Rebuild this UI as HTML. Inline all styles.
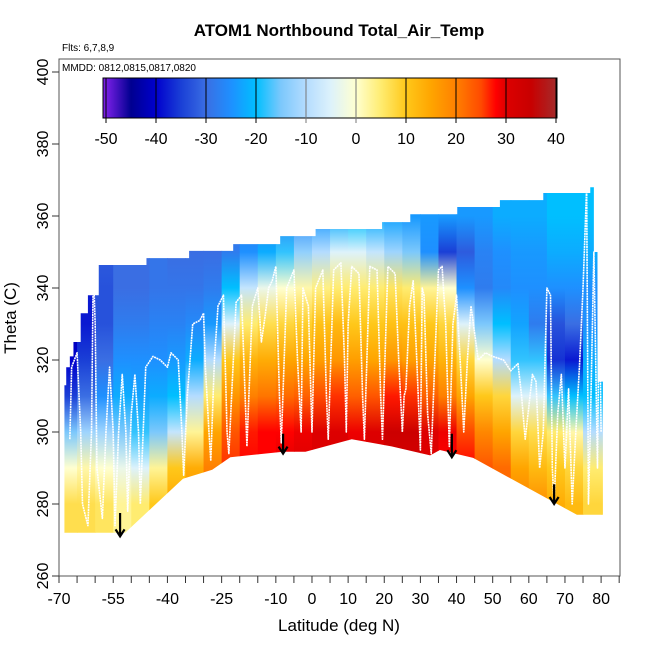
<!DOCTYPE html>
<html><head><meta charset="utf-8">
<style>
html,body{margin:0;padding:0;background:#fff;}
svg{display:block;font-family:"Liberation Sans",sans-serif;}
</style></head>
<body>
<svg id="chart" width="650" height="650" viewBox="0 0 650 650" xmlns="http://www.w3.org/2000/svg">
<defs id="defs"></defs>
<text x="339" y="36" text-anchor="middle" font-size="17" font-weight="bold">ATOM1 Northbound Total_Air_Temp</text>
<text x="62" y="51" font-size="10">Flts: 6,7,8,9</text>
<g id="field"></g>
<g id="track"></g>
<g id="arrows"></g>
<rect x="59" y="59" width="561" height="517" fill="none" stroke="#555" stroke-width="1"/>
<text x="62" y="71" font-size="10">MMDD: 0812,0815,0817,0820</text>
<g id="cbar"></g>
<g id="xaxis"></g>
<g id="yaxis"></g>
<text x="339" y="631" text-anchor="middle" font-size="17">Latitude (deg N)</text>
<text transform="translate(16,318) rotate(-90)" text-anchor="middle" font-size="17">Theta (C)</text>
</svg>
<script>
const colLeft = [-70,-65,-60,-55,-50,-45,-40,-35,-30,-25,-20,-15,-10,-5,0,5,10,15,20,25,30,35,40,45,50,55,60,65,70,75,80];
const levels = [270,280,290,300,310,320,330,340,350,360,370];
const fieldValues = [
[7,7,0,-15,-35,-40,-42,-42,-40,-40,-40],
[7,7,2,-12,-30,-35,-38,-38,-36,-36,-36],
[6,6,0,-12,-25,-30,-33,-33,-32,-32,-32],
[3,3,-3,-15,-22,-25,-28,-30,-30,-30,-30],
[5,5,-5,-18,-23,-25,-28,-30,-30,-30,-30],
[10,10,3,-15,-22,-25,-27,-29,-29,-29,-29],
[15,15,10,-8,-20,-24,-27,-29,-30,-30,-30],
[18,18,14,3,-10,-22,-26,-29,-30,-30,-30],
[22,22,20,15,5,-10,-24,-28,-30,-30,-30],
[27,27,26,24,17,10,-5,-20,-28,-30,-30],
[28,28,28,27,20,13,5,-8,-25,-28,-28],
[28,28,28,28,21,14,7,-3,-22,-28,-28],
[30,30,30,28,22,15,8,0,-18,-27,-27],
[30,30,30,29,23,15,9,2,-13,-26,-26],
[30,30,30,30,25,16,11,4,-10,-24,-24],
[31,31,31,30,26,17,12,5,-5,-22,-22],
[31,31,31,29,23,16,10,5,-5,-20,-20],
[31,31,31,30,24,15,10,5,-8,-22,-22],
[32,32,32,34,27,17,11,6,-12,-23,-23],
[32,32,32,34,26,16,11,5,-15,-24,-24],
[30,30,30,30,23,15,10,3,-25,-24,-24],
[28,28,28,29,20,13,8,0,-35,-24,-24],
[28,28,28,25,15,8,-5,-25,-32,-24,-24],
[25,25,24,19,10,0,-15,-28,-27,-24,-24],
[22,22,22,15,8,-10,-20,-26,-25,-22,-22],
[20,20,15,8,-5,-18,-23,-25,-24,-22,-22],
[18,18,12,7,-5,-18,-28,-25,-24,-22,-22],
[15,14,10,5,-18,-36,-33,-25,-22,-20,-20],
[12,12,8,2,-20,-38,-30,-25,-22,-20,-20],
[8,8,5,-10,-20,-22,-25,-25,-22,-20,-20],
[8,8,5,-10,-20,-22,-25,-25,-22,-20,-20]];
const bottomLat = [-68.5,-51.7,-48,-35.7,-27.6,-22.6,-8,-1.8,11,22,32.7,35.4,44.6,73.3,80.5];
const bottomTheta = [272,272,275.5,287,289.5,293,294.5,294.5,298,296,293.5,295,292.8,277,277];
const topStart = [-68.5,-68,-67,-66,-64,-62,-59,-45.8,-34,-21.8,-8.8,1,19.4,27.2,40.2,52,64,77,78,79];
const topEnd   = [-68,-67,-66,-64,-62,-59,-45.8,-34,-21.8,-8.8,1,19.4,27.2,40.2,52,64,77,78,79,80.5];
const topTheta = [313,318,321,325,333,338,346.4,348.3,350.3,352.2,354.4,356.4,358.3,360.5,362.5,364.4,366.4,368,350,314];
const trackLat = [-67,-66.5,-65,-64,-63.5,-62,-61,-60.5,-60,-59.5,-58,-57,-56,-55,-54.5,-53.5,-52.5,-51.5,-51,-50,-49,-48,-47.5,-46,-44,-42,-40,-39,-37,-36,-35.5,-34.5,-33,-31,-30,-29.5,-28.5,-28,-27,-26,-24.5,-23.5,-23,-21,-19.5,-18.5,-18,-16.5,-15,-14,-13,-12,-11,-10,-9,-8.5,-7,-5,-4,-3,-2.5,-1,0,1,3,4,4.5,6,8,9,9.5,10,11,13,14,14.5,16,18,19,19.5,21,23,24,25,25.5,26,27,28,29,30,30.5,31,32,33,34,35,36,37,38,39,40,41,42,43,44,46,48,50,53,55,57,58,59,61,62,63,64,65,66,66.5,67,68,69,70,71,72,73,74,75,76,76.5,77,78,79,79.5,80];
const trackTheta = [298,318,322,300,280,274,300,346,330,290,276,300,318,300,274,300,316,300,278,305,316,300,280,318,321,320,318,322,320,300,288,310,330,331,333,318,300,292,320,335,338,300,294,336,338,310,296,335,340,325,332,340,342,346,310,297,340,345,320,300,340,335,300,340,345,310,298,345,347,320,300,330,346,344,310,298,346,345,310,298,346,344,320,300,310,312,335,342,320,295,340,338,305,294,320,345,346,330,296,330,338,320,300,320,335,320,322,321,320,317,319,310,298,316,314,290,300,340,338,290,280,305,316,290,312,280,300,318,340,368,280,300,350,290,340,300];
const arrowLat = [-53.1,-8,38.7,67];
const arrowTop = [277.5,299.5,299.5,285.5];
const arrowBottom = [271,294,293,280];
const xTicks = [-70,-65,-60,-55,-50,-45,-40,-35,-30,-25,-20,-15,-10,-5,0,5,10,15,20,25,30,35,40,45,50,55,60,65,70,75,80,85];
const xLabels = [-70,-55,-40,-25,-10,0,10,20,30,40,50,60,70,80];
const yLabels = [260,280,300,320,340,360,380,400];
const cbTicks = [-50,-40,-30,-20,-10,0,10,20,30,40];
const cbValues = [-50,-45,-40,-35,-30,-25,-20,-15,-10,-5,0,5,10,15,20,25,28,30,35,40];
const cbColors = ["#7a1fe6","#000090","#0000cd","#1a3fd6","#3a6ee3","#1e90ff","#00bfff","#7cc8fc","#b4dcff","#ddf2fb","#ffffd0","#ffec70","#ffc81a","#ffa500","#ff8000","#ff4a00","#ff0000","#dd0000","#c80000","#a52a2a"];

const NS="http://www.w3.org/2000/svg";
const X = lat => 59 + (lat + 70) * 3.614;
const Y = th => 576 - (th - 260) * 3.6;
const CB = v => 106 + (v + 50) * 5;
function hex(c){return [parseInt(c.slice(1,3),16),parseInt(c.slice(3,5),16),parseInt(c.slice(5,7),16)];}
function color(v){
  if(v<=cbValues[0]) return cbColors[0];
  for(let i=1;i<cbValues.length;i++){
    if(v<=cbValues[i]){
      const t=(v-cbValues[i-1])/(cbValues[i]-cbValues[i-1]);
      const a=hex(cbColors[i-1]),b=hex(cbColors[i]);
      return "rgb("+a.map((x,k)=>Math.round(x+(b[k]-x)*t)).join(",")+")";
    }
  }
  return cbColors[cbColors.length-1];
}
function mk(tag,attrs,parent){const e=document.createElementNS(NS,tag);for(const k in attrs)e.setAttribute(k,attrs[k]);parent.appendChild(e);return e;}
const defs=document.getElementById('defs');

let pts=[];
bottomLat.forEach((l,i)=>pts.push(X(l)+","+Y(bottomTheta[i])));
for(let i=topStart.length-1;i>=0;i--){pts.push(X(topEnd[i])+","+Y(topTheta[i]));pts.push(X(topStart[i])+","+Y(topTheta[i]));}
const cp=mk('clipPath',{id:'dataClip'},defs);
mk('polygon',{points:pts.join(' ')},cp);

const field=document.getElementById('field');
field.setAttribute('clip-path','url(#dataClip)');
colLeft.forEach((l,i)=>{
  const g=mk('linearGradient',{id:'col'+i,gradientUnits:'userSpaceOnUse',x1:0,x2:0,y1:Y(levels[0]),y2:Y(levels[levels.length-1])},defs);
  levels.forEach((lv,j)=>{
    mk('stop',{offset:(j/(levels.length-1)),'stop-color':color(fieldValues[i][j])},g);
  });
  const r=mk('rect',{x:X(l),y:Y(372),width:X(l+5)-X(l)+0.5,height:Y(268)-Y(372),fill:'url(#col'+i+')'},field);
  
  
});

const track=document.getElementById('track');
const tl=mk('polyline',{points:trackLat.map((l,i)=>X(l)+","+Y(trackTheta[i])).join(' '),fill:'none',stroke:'#fff','stroke-width':1.6,'stroke-dasharray':'2 0.6','stroke-linejoin':'round'},track);



const arrows=document.getElementById('arrows');
arrowLat.forEach((l,i)=>{
  const x=X(l),y1=Y(arrowTop[i]),y2=Y(arrowBottom[i]);
  const p=mk('path',{d:`M${x},${y1}L${x},${y2}M${x-4.5},${y2-7}L${x},${y2}L${x+4.5},${y2-7}`,stroke:'#000','stroke-width':2.2,fill:'none'},arrows);
  
  
});

const cbar=document.getElementById('cbar');
const cg=mk('linearGradient',{id:'cbGrad',gradientUnits:'userSpaceOnUse',x1:CB(-50),x2:CB(40),y1:0,y2:0},defs);
cbValues.forEach((v,i)=>mk('stop',{offset:(v+50)/90,'stop-color':cbColors[i]},cg));
mk('rect',{x:103,y:78,width:CB(40)-103+1,height:40,fill:'url(#cbGrad)',stroke:'#000','stroke-width':1},cbar);
cbTicks.forEach(v=>{
  const ln=mk('line',{x1:CB(v),x2:CB(v),y1:78,y2:123,stroke:v<=-20||v>=10?'#000':'#777','stroke-width':1},cbar);
  
  
  const t=mk('text',{x:CB(v),y:144,'text-anchor':'middle','font-size':16},cbar);
  t.textContent=v;
  
  
});

const xa=document.getElementById('xaxis');
xTicks.forEach(v=>{
  const ln=mk('line',{x1:X(v),x2:X(v),y1:576,y2:583,stroke:'#333'},xa);
  
  
});
xLabels.forEach(v=>{
  const t=mk('text',{x:X(v),y:604,'text-anchor':'middle','font-size':16},xa);
  t.textContent=v;
  
  
});
const ya=document.getElementById('yaxis');
yLabels.forEach(v=>{
  const ln=mk('line',{x1:52,x2:59,y1:Y(v),y2:Y(v),stroke:'#333'},ya);
  
  
  const t=mk('text',{transform:`translate(48,${Y(v)}) rotate(-90)`,'text-anchor':'middle','font-size':16},ya);
  t.textContent=v;
  
  
});
</script>
</body></html>
